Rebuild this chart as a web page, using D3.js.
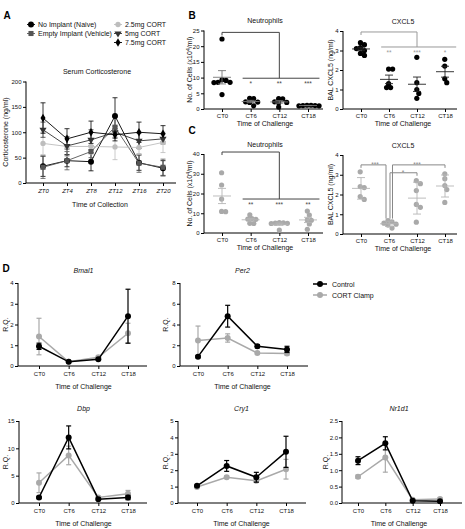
<!DOCTYPE html>
<html><head><meta charset="utf-8">
<script src="https://cdn.jsdelivr.net/npm/d3@7"></script>
<style>body{margin:0;background:#fff}</style>
</head><body><svg id="c" width="465" height="529"></svg>
<script>
// ---------------- DATA ----------------
const ztLabels = ["ZT0","ZT4","ZT8","ZT12","ZT16","ZT20"];
const aSeriesNames = ["No Implant (Naive)","Empty Implant (Vehicle)","2.5mg CORT","5mg CORT","7.5mg CORT"];
const aNaive     = [33,44,42,132,40,29];
const aNaiveErr  = [20,12,18,36,15,15];
const aVehicle   = [31,44,62,110,39,31];
const aVehicleErr= [22,18,12,20,18,16];
const aCort25    = [78,72,72,71,70,80];
const aCort25Err = [22,20,15,25,14,20];
const aCort5     = [105,73,85,100,83,87];
const aCort5Err  = [15,18,20,12,15,10];
const aCort75    = [128,87,100,95,100,97];
const aCort75Err = [30,20,22,12,20,16];

const ctLabels = ["CT0","CT6","CT12","CT18"];
const bNeutro = [[22.3,9.3,8.5,8.5,8.4,9.1,4.6],[3.4,3.3,2.3,2.2,2.1,1.0],[3.3,3.2,2.3,2.1,2.0,0.6],[1.2,1.1,1.0,1.0,1.1,1.2]];
const bCxcl5  = [[3.4,3.3,3.15,3.1,3.0,2.85,2.75],[2.05,2.05,1.3,1.1,1.1],[2.65,1.35,1.0,0.8,0.55],[2.55,2.2,1.55,1.35]];
const cNeutro = [[30.5,24.3,17.2,10.8,10.9],[9.2,7.3,7.1,6.9,4.9,4.8],[5.2,5.0,4.8,4.9,5.3,1.5],[11.1,9.1,6.6,6.4,4.6,1.9]];
const cCxcl5  = [[3.15,2.4,2.35,1.9,1.75],[0.68,0.62,0.55,0.5,0.45,0.3],[2.7,2.55,2.2,1.5,1.35,0.6],[3.05,2.8,2.45,2.25,1.6]];

const bNeutroStars = ["","*","**","***"];
const bNeutroLevels = [24.4, 9.8];
const bCxcl5Stars = ["","**","***","*"];
const bCxcl5Levels = [3.95, 3.18];
const cNeutroStars = ["","**","***","**"];
const cNeutroLevels = [41, 17.2];
const cCxcl5Brackets = [["CT0","CT6","***",3.5],["CT6","CT12","*",3.1],["CT6","CT18","***",3.5]];

const dSeriesNames = ["Control","CORT Clamp"];
const bmal1Ctrl=[0.95,0.2,0.32,2.4],  bmal1CtrlErr=[0.15,0.03,0.05,1.3];
const bmal1Cort=[1.42,0.2,0.42,1.58], bmal1CortErr=[0.88,0.03,0.05,0.48];
const per2Ctrl=[0.9,4.8,1.9,1.6],     per2CtrlErr=[0.1,1.05,0.15,0.3];
const per2Cort=[2.45,2.7,1.25,1.2],   per2CortErr=[1.4,0.4,0.1,0.15];
const dbpCtrl=[1.0,12.0,0.7,1.0],     dbpCtrlErr=[0.2,2.1,0.2,0.4];
const dbpCort=[3.7,8.7,1.0,1.7],      dbpCortErr=[1.8,1.7,0.2,0.6];
const cry1Ctrl=[1.05,2.26,1.57,3.12], cry1CtrlErr=[0.05,0.33,0.3,0.95];
const cry1Cort=[0.98,1.57,1.35,2.06], cry1CortErr=[0.05,0.08,0.08,0.6];
const nr1d1Ctrl=[1.29,1.82,0.07,0.05],nr1d1CtrlErr=[0.12,0.2,0.02,0.02];
const nr1d1Cort=[0.8,1.39,0.1,0.12],  nr1d1CortErr=[0.05,0.45,0.02,0.03];

// ---------------- DRAWING ----------------
const FF = '"Liberation Sans", Arial, Helvetica, sans-serif';
const FS = 7;
const TFS = 6;
const svg = d3.select("#c");

function text(g, x, y, s, o = {}) {
  const t = g.append("text").attr("x", x).attr("y", y).text(s)
    .attr("font-family", FF).attr("font-size", o.size || FS)
    .attr("fill", o.fill || "#111").attr("text-anchor", o.anchor || "middle");
  if (o.italic) t.attr("font-style", "italic");
  if (o.bold) t.attr("font-weight", "bold");
  return t;
}
function vtext(g, x, y, s) {
  return g.append("text").attr("transform", `translate(${x},${y}) rotate(-90)`)
    .attr("text-anchor", "middle").attr("dy", "0.35em")
    .attr("font-family", FF).attr("font-size", FS).attr("fill", "#111").text(s);
}
function seg(g, x1, y1, x2, y2, c, w) {
  g.append("line").attr("x1", x1).attr("y1", y1).attr("x2", x2).attr("y2", y2)
    .attr("stroke", c || "#000").attr("stroke-width", w || 1);
}
function styleAxis(sel, italic) {
  sel.attr("font-family", FF).attr("font-size", TFS);
  sel.select(".domain").remove();
  sel.selectAll(".tick line").attr("stroke", "#000");
  sel.selectAll(".tick text").attr("fill", "#111");
  if (italic) sel.selectAll(".tick text").attr("font-style", "italic");
}
function axes(g, x, y, cfg) {
  g.append("g").attr("transform", `translate(${cfg.ax},0)`)
    .call(d3.axisLeft(y).tickValues(cfg.yt).tickSize(3).tickPadding(cfg.ypad || 1.5).tickFormat(cfg.fmt || d3.format("d")))
    .call(s => styleAxis(s));
  seg(g, cfg.ax, y.range()[0], cfg.ax, y.range()[1]);
  g.append("g").attr("transform", `translate(0,${y.range()[0]})`)
    .call(d3.axisBottom(x).tickSize(3).tickPadding(cfg.xpad || 2))
    .call(s => styleAxis(s, cfg.italicX));
  seg(g, cfg.ax, y.range()[0], cfg.axEnd, y.range()[0]);
}

// ---------- Panel letters ----------
text(svg, 7, 19, "A", {size: 10, bold: true, fill: "#000"});
text(svg, 192, 19, "B", {size: 10, bold: true, fill: "#000"});
text(svg, 192, 134, "C", {size: 10, bold: true, fill: "#000"});
text(svg, 6, 272, "D", {size: 10, bold: true, fill: "#000"});

// ---------- Panel A ----------
(function () {
  const g = svg.append("g");
  const x = d3.scalePoint().domain(ztLabels).range([43, 163]);
  const y = d3.scaleLinear().domain([0, 200]).range([183, 81.5]);
  axes(g, x, y, {ax: 26, axEnd: 176, yt: [0, 50, 100, 150, 200], italicX: true, xpad: 3});
  text(g, 97, 73.5, "Serum Corticosterone");
  text(g, 100, 206.5, "Time of Collection");
  vtext(g, 6, 132, "Corticosterone (ng/ml)");

  const tri = d3.symbol().type(d3.symbolTriangle).size(22)();
  const series = [
    {v: aNaive, e: aNaiveErr, c: "#000", sym: d3.symbol().type(d3.symbolCircle).size(28)(), rot: 0},
    {v: aVehicle, e: aVehicleErr, c: "#555", sym: d3.symbol().type(d3.symbolSquare).size(26)(), rot: 0},
    {v: aCort25, e: aCort25Err, c: "#bdbdbd", sym: d3.symbol().type(d3.symbolCircle).size(22)(), rot: 0},
    {v: aCort5, e: aCort5Err, c: "#333", sym: tri, rot: 180},
    {v: aCort75, e: aCort75Err, c: "#000", sym: d3.symbol().type(d3.symbolDiamond).size(22)(), rot: 0},
  ];
  const line = d3.line().x((d, i) => x(ztLabels[i])).y(d => y(d));
  series.forEach(s => {
    s.v.forEach((v, i) => {
      const cx = x(ztLabels[i]);
      seg(g, cx, y(v - s.e[i]), cx, y(v + s.e[i]), s.c, 0.8);
      seg(g, cx - 2.5, y(v + s.e[i]), cx + 2.5, y(v + s.e[i]), s.c, 0.8);
      seg(g, cx - 2.5, y(v - s.e[i]), cx + 2.5, y(v - s.e[i]), s.c, 0.8);
    });
  });
  series.forEach(s => {
    g.append("path").attr("d", line(s.v)).attr("fill", "none").attr("stroke", s.c).attr("stroke-width", 0.9);
    s.v.forEach((v, i) => {
      g.append("path").attr("d", s.sym).attr("fill", s.c)
        .attr("transform", `translate(${x(ztLabels[i])},${y(v)}) rotate(${s.rot})`);
    });
  });
  // legend
  const leg = [[31, 24.5], [31, 33.5], [118, 24.5], [118, 33.5], [118, 42.5]];
  series.forEach((s, i) => {
    const [lx, ly] = leg[i];
    seg(g, lx - 4, ly, lx + 4, ly, s.c, 0.9);
    g.append("path").attr("d", s.sym).attr("fill", s.c).attr("transform", `translate(${lx},${ly}) rotate(${s.rot})`);
    text(g, lx + 7, ly + 2.5, aSeriesNames[i], {anchor: "start"});
  });
})();

// ---------- Scatter panels (B, C) ----------
function swarm(vals, y, r) {
  const sep = r * 1.55;
  const placed = [];
  const out = new Array(vals.length);
  const order = vals.map((v, i) => i).sort((a, b) => vals[b] - vals[a]);
  order.forEach(i => {
    const py = y(vals[i]);
    const cands = [0];
    for (let k = 1; k < 12; k++) { cands.push(k * sep / 2, -k * sep / 2); }
    let dx = 0;
    for (const c of cands) {
      if (placed.every(p => Math.hypot(p[0] - c, p[1] - py) >= sep)) { dx = c; break; }
    }
    placed.push([dx, py]);
    out[i] = [dx, py];
  });
  const mean = d3.mean(out, d => d[0]);
  return out.map(d => [d[0] - mean * 0.5, d[1]]);
}

function scatterPanel(cfg) {
  const g = svg.append("g");
  const x = d3.scalePoint().domain(ctLabels).range(cfg.xr);
  const y = d3.scaleLinear().domain(cfg.yd).range(cfg.yr);
  axes(g, x, y, cfg);
  const mid = (cfg.xr[0] + cfg.xr[1]) / 2;
  text(g, mid, cfg.yr[1] - 7.5, cfg.title);
  text(g, mid, cfg.yr[0] + 16.5, "Time of Challenge");
  const yl = vtext(g, cfg.ylx, (cfg.yr[0] + cfg.yr[1]) / 2, "");
  cfg.ylabel(yl);
  const r = 2.6;
  cfg.data.forEach((vals, i) => {
    const cx = x(ctLabels[i]);
    const pos = swarm(vals, y, r);
    pos.forEach(p => g.append("circle").attr("cx", cx + p[0]).attr("cy", p[1]).attr("r", r).attr("fill", cfg.dot));
  });
  cfg.data.forEach((vals, i) => {
    const cx = x(ctLabels[i]);
    const m = d3.mean(vals);
    const sd = d3.deviation(vals);
    const e = cfg.err === "sd" ? sd : sd / Math.sqrt(vals.length);
    seg(g, cx - 9, y(m), cx + 9, y(m), cfg.lc, 0.9);
    seg(g, cx, y(m - e), cx, y(m + e), cfg.lc, 0.9);
    seg(g, cx - 4, y(m + e), cx + 4, y(m + e), cfg.lc, 0.9);
    seg(g, cx - 4, y(m - e), cx + 4, y(m - e), cfg.lc, 0.9);
  });
  return {g, x, y};
}
function yLabCells(t) {
  t.append("tspan").text("No. of Cells (x10");
  t.append("tspan").text("4").attr("font-size", 5).attr("dy", -2.5);
  t.append("tspan").text("/ml)").attr("dy", 2.5);
}
function yLabCxcl(t) { t.text("BAL CXCL5 (ng/ml)"); }

function oneToMany(p, levels, stars, c) {
  const {g, x, y} = p;
  const st = x.step();
  const x0 = x(ctLabels[0]), x2 = x(ctLabels[2]);
  const yt = y(levels[0]), yl = y(levels[1]);
  seg(g, x0, yt, x2, yt, c);
  seg(g, x0, yt, x0, yt + 3, c);
  seg(g, x2, yt, x2, yl, c);
  seg(g, x(ctLabels[1]) - 0.28 * st, yl, x(ctLabels[3]) + 0.4 * st, yl, c);
  stars.forEach((s, i) => { if (s) text(g, x(ctLabels[i]), yl + 8, s, {size: 6.5, fill: c}); });
}

const pBN = scatterPanel({xr: [222, 308], ax: 204, axEnd: 323, yd: [0, 25], yr: [109, 30.5], yt: [0, 5, 10, 15, 20, 25],
  title: "Neutrophils", ylx: 190, ylabel: yLabCells, data: bNeutro, dot: "#000", lc: "#777", err: "sem"});
oneToMany(pBN, bNeutroLevels, bNeutroStars, "#444");

const pBC = scatterPanel({xr: [361, 445], ax: 343, axEnd: 457, yd: [0, 4], yr: [109, 31], yt: [0, 1, 2, 3, 4],
  title: "CXCL5", ylx: 331, ylabel: yLabCxcl, data: bCxcl5, dot: "#000", lc: "#222", err: "sem"});
oneToMany(pBC, bCxcl5Levels, bCxcl5Stars, "#999");

const pCN = scatterPanel({xr: [222, 308], ax: 204, axEnd: 323, yd: [0, 40], yr: [233, 154], yt: [0, 10, 20, 30, 40],
  title: "Neutrophils", ylx: 190, ylabel: yLabCells, data: cNeutro, dot: "#a9a9a9", lc: "#b5b5b5", err: "sem"});
oneToMany(pCN, cNeutroLevels, cNeutroStars, "#444");

const pCC = scatterPanel({xr: [361, 445], ax: 343, axEnd: 457, yd: [0, 4], yr: [234, 155], yt: [0, 1, 2, 3, 4],
  title: "CXCL5", ylx: 331, ylabel: yLabCxcl, data: cCxcl5, dot: "#a9a9a9", lc: "#b5b5b5", err: "sd"});
(function () {
  const {g, x, y} = pCC;
  const c = "#888";
  const ct6 = x("CT6");
  const offs = {"CT12": 1, "CT0": -3, "CT18": 3.5};
  cCxcl5Brackets.forEach(b => {
    const other = b[0] === "CT6" ? b[1] : b[0];
    const ox = x(other);
    const vx = ct6 + offs[other];
    const ly = y(b[3]);
    seg(g, Math.min(ox, vx), ly, Math.max(ox, vx), ly, c);
    seg(g, ox, ly, ox, ly + 3, c);
    seg(g, vx, ly, vx, y(0.78), c);
    text(g, (ox + ct6) / 2, ly + 2.5, b[2], {size: 6.5, fill: c});
  });
})();

// ---------- Panel D ----------
function linePanel(cfg) {
  const g = svg.append("g");
  const x = d3.scalePoint().domain(ctLabels).range(cfg.xr);
  const y = d3.scaleLinear().domain(cfg.yd).range(cfg.yr);
  axes(g, x, y, Object.assign({xpad: 3}, cfg));
  const mid = (cfg.xr[0] + cfg.xr[1]) / 2;
  text(g, mid, cfg.yr[1] - 10, cfg.title, {italic: true});
  text(g, mid, cfg.yr[0] + 23, "Time of Challenge");
  vtext(g, cfg.ylx, (cfg.yr[0] + cfg.yr[1]) / 2, "R.Q.");
  const line = d3.line().x((d, i) => x(ctLabels[i])).y(d => y(d));
  const ser = [{v: cfg.cort, e: cfg.cortErr, c: "#a9a9a9"}, {v: cfg.ctrl, e: cfg.ctrlErr, c: "#000"}];
  ser.forEach(s => {
    s.v.forEach((v, i) => {
      const cx = x(ctLabels[i]);
      const lo = Math.max(cfg.yd[0], v - s.e[i]);
      seg(g, cx, y(lo), cx, y(v + s.e[i]), s.c, 1.2);
      seg(g, cx - 2.5, y(v + s.e[i]), cx + 2.5, y(v + s.e[i]), s.c, 1.2);
      seg(g, cx - 2.5, y(lo), cx + 2.5, y(lo), s.c, 1.2);
    });
    g.append("path").attr("d", line(s.v)).attr("fill", "none").attr("stroke", s.c).attr("stroke-width", 1.5);
    s.v.forEach((v, i) => g.append("circle").attr("cx", x(ctLabels[i])).attr("cy", y(v)).attr("r", 3).attr("fill", s.c));
  });
}
const fmt1 = d3.format(".1f");
linePanel({title: "Bmal1", xr: [39, 128], ax: 18, axEnd: 147, yd: [0, 4], yr: [366, 283], yt: [0, 1, 2, 3, 4], ylx: 6,
  ctrl: bmal1Ctrl, ctrlErr: bmal1CtrlErr, cort: bmal1Cort, cortErr: bmal1CortErr});
linePanel({title: "Per2", xr: [198, 287], ax: 180, axEnd: 308, yd: [0, 8], yr: [366, 283], yt: [0, 2, 4, 6, 8], ylx: 166,
  ctrl: per2Ctrl, ctrlErr: per2CtrlErr, cort: per2Cort, cortErr: per2CortErr});
linePanel({title: "Dbp", xr: [39, 128], ax: 19, axEnd: 147, yd: [0, 15], yr: [503, 421], yt: [0, 5, 10, 15], ylx: 6,
  ctrl: dbpCtrl, ctrlErr: dbpCtrlErr, cort: dbpCort, cortErr: dbpCortErr});
linePanel({title: "Cry1", xr: [197, 286], ax: 178, axEnd: 306, yd: [0, 5], yr: [503, 421], yt: [0, 1, 2, 3, 4, 5], ylx: 166,
  ctrl: cry1Ctrl, ctrlErr: cry1CtrlErr, cort: cry1Cort, cortErr: cry1CortErr});
linePanel({title: "Nr1d1", xr: [358, 440], ax: 342, axEnd: 462, yd: [0, 2.5], yr: [503, 421], yt: [0, 0.5, 1, 1.5, 2, 2.5], ylx: 326, fmt: fmt1, ypad: 1,
  ctrl: nr1d1Ctrl, ctrlErr: nr1d1CtrlErr, cort: nr1d1Cort, cortErr: nr1d1CortErr});

// D legend
(function () {
  const g = svg.append("g");
  const cols = ["#000", "#a9a9a9"];
  dSeriesNames.forEach((n, i) => {
    const ly = 284 + i * 11;
    seg(g, 313, ly, 327, ly, cols[i], 1.5);
    g.append("circle").attr("cx", 320).attr("cy", ly).attr("r", 3).attr("fill", cols[i]);
    text(g, 332, ly + 2.5, n, {anchor: "start"});
  });
})();
</script>
</body></html>
